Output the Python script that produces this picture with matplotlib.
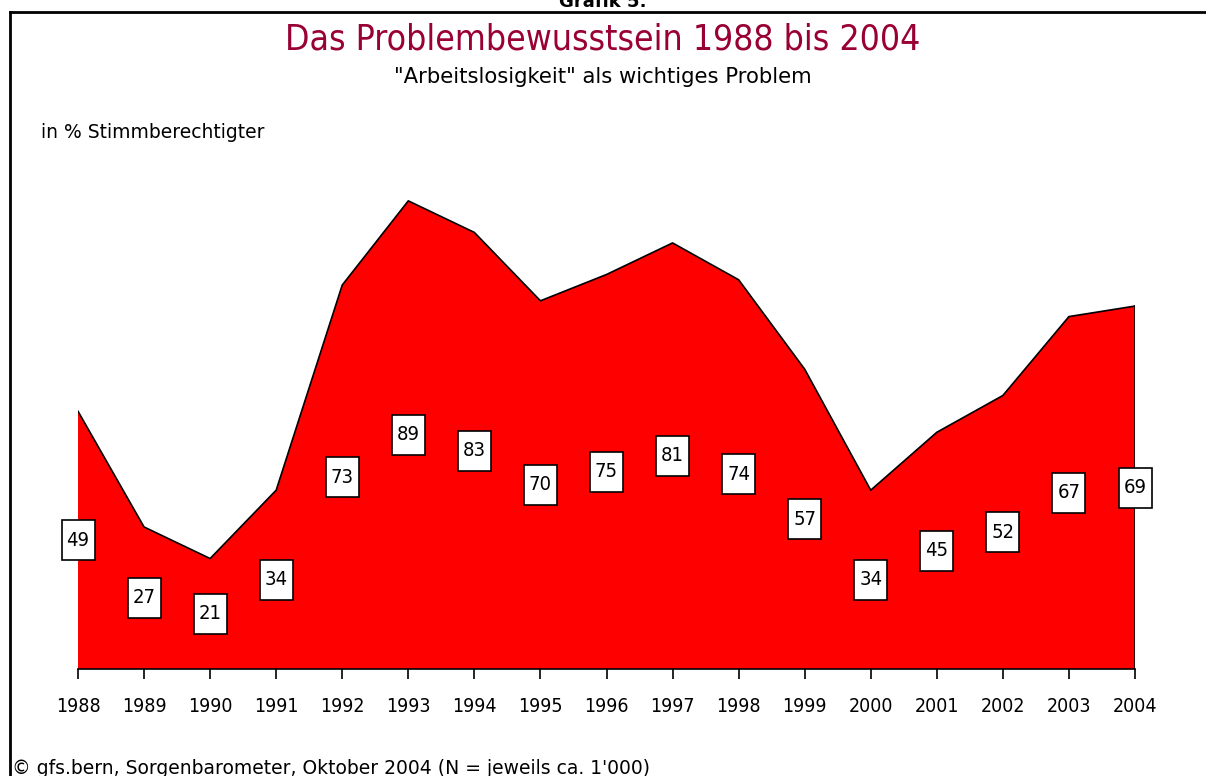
import matplotlib
matplotlib.use("Agg")
import matplotlib.pyplot as plt
from matplotlib.lines import Line2D
from matplotlib.patches import Rectangle
from matplotlib.transforms import ScaledTranslation

years = [1988, 1989, 1990, 1991, 1992, 1993, 1994, 1995, 1996, 1997, 1998, 1999, 2000, 2001, 2002, 2003, 2004]
values = [49, 27, 21, 34, 73, 89, 83, 70, 75, 81, 74, 57, 34, 45, 52, 67, 69]
tick_labels = [str(y) for y in years]

W, H = 1206, 776
fig = plt.figure(figsize=(W / 100, H / 100), dpi=100)
fig.patch.set_facecolor("white")

ax = fig.add_axes([78 / W, 1 - 669 / H, (1135 - 78) / W, (669 - 143) / H])
ax.fill_between(years, values, 0, facecolor="#ff0000", edgecolor="none", zorder=1)
ax.plot(years, values, color="black", lw=1.2, zorder=2)
ax.plot([years[-1], years[-1]], [0, values[-1]], color="black", lw=1.2, zorder=2)
ax.set_xlim(years[0], years[-1])
ax.set_ylim(0, 100)
ax.set_yticks([])
for s in ["top", "right", "left"]:
    ax.spines[s].set_visible(False)
ax.spines["bottom"].set_linewidth(1.2)
ax.set_xticks(years)
ax.set_xticklabels(tick_labels, fontsize=14, family="DejaVu Sans", fontstretch="condensed")
ax.tick_params(axis="x", direction="out", length=7, width=1.2, pad=13, colors="black")

bw, bh = 0.33, 0.40  # box size in inches
for x, v in zip(years, values):
    tr = fig.dpi_scale_trans + ScaledTranslation(x, v / 2, ax.transData)
    ax.add_artist(Rectangle((-bw / 2, -bh / 2), bw, bh, transform=tr, facecolor="white",
                            edgecolor="black", lw=1.2, zorder=3, clip_on=False))
    ax.text(x, v / 2, str(v), ha="center", va="center", fontsize=14.5,
            fontstretch="condensed", zorder=4)

fig.text(0.5, 1 - 40 / H, "Das Problembewusstsein 1988 bis 2004", ha="center", va="center",
         fontsize=25.5, color="#990033", family="DejaVu Sans", fontstretch="condensed")
fig.text(0.5, 1 - 77 / H, "\"Arbeitslosigkeit\" als wichtiges Problem", ha="center", va="center",
         fontsize=15.2, color="black")
fig.text(41 / W, 1 - 132 / H, "in % Stimmberechtigter", ha="left", va="center", fontsize=13.5)
fig.text(0.5, 1 - 2 / H, "Grafik 5:", ha="center", va="center", fontsize=13, fontweight="bold")
fig.text(12 / W, 1 - 768 / H, "\u00a9 gfs.bern, Sorgenbarometer, Oktober 2004 (N = jeweils ca. 1'000)",
         ha="left", va="center", fontsize=13.5)

fig.add_artist(Line2D([10 / W, 10 / W], [0, 1 - 12 / H], transform=fig.transFigure, color="black", lw=2))
fig.add_artist(Line2D([10 / W, 1], [1 - 12 / H, 1 - 12 / H], transform=fig.transFigure, color="black", lw=2))

fig.savefig("out.png", dpi=100)
